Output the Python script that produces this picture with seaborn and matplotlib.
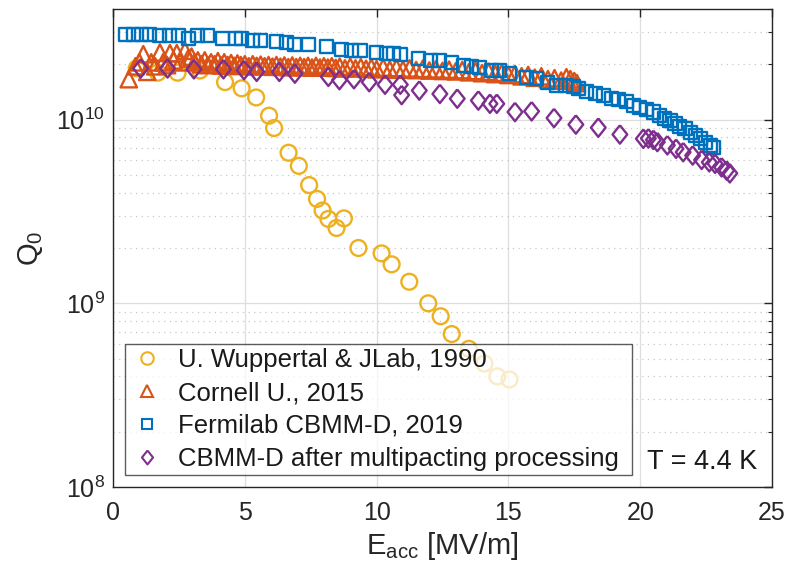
import numpy as np
import pandas as pd
import matplotlib
matplotlib.use("Agg")
import matplotlib.pyplot as plt
from matplotlib.lines import Line2D
from matplotlib.ticker import LogLocator, FixedLocator, NullFormatter
import seaborn as sns

# ---------------- data ----------------
wup_E = [0.9, 1.7, 2.45, 3.3, 4.25, 4.88, 5.43, 5.92, 6.11, 6.66, 7.05, 7.44, 7.74, 7.95,
         8.17, 8.48, 8.76, 9.31, 10.19, 10.57, 11.24, 11.96, 12.43, 12.85, 13.5, 14.09,
         14.58, 15.04]
wup_Q = [1.90e10, 1.80e10, 1.80e10, 1.85e10, 1.60e10, 1.48e10, 1.32e10, 1.05e10, 9.0e9,
         6.6e9, 5.6e9, 4.4e9, 3.7e9, 3.2e9, 2.88e9, 2.57e9, 2.9e9, 2.0e9, 1.87e9, 1.63e9,
         1.31e9, 1.0e9, 8.5e8, 6.8e8, 5.65e8, 4.7e8, 4.0e8, 3.85e8]

cor_E = [0.60, 0.85, 1.00, 1.15, 1.30, 1.45, 1.60, 1.78, 1.90, 2.05, 2.16, 2.30, 2.42, 2.55,
         2.73, 2.85, 2.98, 3.10, 3.22, 3.35, 3.48, 3.60, 3.72, 3.85, 3.98, 4.10, 4.22, 4.35,
         4.48, 4.60, 4.72, 4.85, 5.00, 5.15, 5.30, 5.45, 5.60, 5.75, 5.90, 6.05, 6.20, 6.35,
         6.50, 6.65, 6.80, 6.95, 7.10, 7.25, 7.40, 7.55, 7.70, 7.85, 8.00, 8.15, 8.30, 8.45,
         8.60, 8.80, 9.00, 9.20, 9.40, 9.60, 9.80, 10.00, 10.25, 10.50, 10.75, 11.00, 11.25,
         11.50, 11.75, 12.00, 12.25, 12.50, 12.75, 13.00, 13.25, 13.50, 13.75, 14.00, 14.25,
         14.50, 14.75, 15.00, 15.25, 15.50, 15.75, 16.00, 16.25, 16.50, 16.75, 17.00, 17.20,
         17.35, 17.50, 17.60]
cor_Q = [1.66, 1.95, 2.05, 2.27, 1.82, 2.05, 1.95, 2.32, 2.05, 1.98, 2.30, 2.10, 2.30, 2.05,
         2.37, 2.15, 2.20, 2.05, 2.10, 2.00, 2.10, 1.98, 2.05, 2.00, 2.08, 1.97, 2.05, 1.98,
         2.03, 1.96, 2.02, 1.98, 2.00, 1.95, 2.00, 1.96, 1.99, 1.95, 1.98, 1.94, 1.98, 1.94,
         1.97, 1.93, 1.97, 1.93, 1.96, 1.93, 1.96, 1.92, 1.96, 1.92, 1.95, 1.92, 1.95, 1.91,
         1.94, 1.90, 1.94, 1.90, 1.93, 1.89, 1.92, 1.88, 1.92, 1.87, 1.91, 1.87, 1.90,
         1.86, 1.89, 1.85, 1.88, 1.84, 1.87, 1.83, 1.86, 1.81, 1.84, 1.79, 1.82,
         1.77, 1.80, 1.75, 1.77, 1.72, 1.75, 1.69, 1.72, 1.66, 1.68, 1.63, 1.70,
         1.66, 1.62, 1.58]
cor_Q = [q * 1e10 for q in cor_Q]

fnal_E = [0.46, 0.76, 1.09, 1.4, 1.78, 2.16, 2.47, 2.85, 3.22, 3.6, 4.17, 4.63, 4.88, 5.3,
          5.58, 6.21, 6.59, 6.9, 7.4, 8.1, 8.68, 9.05, 9.37, 10.0, 10.38, 10.63, 10.9, 11.58,
          12.03, 12.4, 12.85, 13.28, 13.6, 13.92, 14.37, 14.68, 15.06, 15.69, 16.07, 16.5,
          16.83, 17.15, 17.46, 17.65, 17.97, 18.29, 18.6, 18.92, 19.17, 19.48, 19.74, 19.99,
          20.24, 20.5, 20.75, 20.94, 21.13, 21.32, 21.5, 21.7, 21.89, 22.08, 22.27, 22.46,
          22.65, 22.77]
fnal_Q = [2.90, 2.90, 2.89, 2.89, 2.88, 2.88, 2.87, 2.77, 2.86, 2.86, 2.78, 2.78, 2.76, 2.71,
          2.70, 2.66, 2.63, 2.57, 2.55, 2.51, 2.41, 2.39, 2.37, 2.32, 2.29, 2.28, 2.26, 2.15,
          2.11, 2.09, 2.04, 1.98, 1.95, 1.92, 1.86, 1.85, 1.78, 1.70, 1.67, 1.60,
          1.54, 1.53, 1.51, 1.48, 1.42, 1.39, 1.36, 1.30, 1.28, 1.25, 1.20, 1.17,
          1.13, 1.10, 1.05, 1.02, 0.99, 0.95, 0.92, 0.89, 0.855, 0.82, 0.787, 0.755,
          0.725, 0.708]
fnal_Q = [q * 1e10 for q in fnal_Q]

mp_E = [1.05, 2.07, 3.07, 4.19, 4.97, 5.45, 6.31, 6.9, 8.17, 8.59, 9.14, 9.72, 10.32, 10.9,
        10.95, 11.62, 12.4, 13.06, 13.86, 14.3, 14.56, 15.25, 15.88, 16.73, 17.56, 18.41,
        19.23, 20.12, 20.31, 20.5, 20.65, 21.03, 21.36, 21.63, 21.99, 22.33, 22.62, 22.84,
        23.09, 23.28, 23.4]
mp_Q = [1.90, 1.90, 1.88, 1.88, 1.86, 1.82, 1.82, 1.78, 1.71, 1.64, 1.66, 1.60, 1.55, 1.55,
        1.36, 1.44, 1.38, 1.30, 1.27, 1.22, 1.22, 1.10, 1.11, 1.02, 0.94, 0.904,
        0.83, 0.787, 0.79, 0.776, 0.755, 0.725, 0.694, 0.665, 0.638, 0.604, 0.586, 0.575,
        0.55, 0.528, 0.51]
mp_Q = [q * 1e10 for q in mp_Q]

labels = ["U. Wuppertal & JLab, 1990", "Cornell U., 2015",
          "Fermilab CBMM-D, 2019", "CBMM-D after multipacting processing"]
colors = ["#EDB120", "#D95319", "#0072BD", "#7E2F8E"]
x_ticks = [0, 5, 10, 15, 20, 25]

# ---------------- style ----------------
sns.set_style("white")
plt.rcParams["font.family"] = ["Liberation Sans", "DejaVu Sans"]
plt.rcParams["mathtext.fontset"] = "custom"
plt.rcParams["mathtext.rm"] = "Liberation Sans"
plt.rcParams["mathtext.it"] = "Liberation Sans:italic"
plt.rcParams["mathtext.default"] = "regular"

fig = plt.figure(figsize=(7.85, 5.65), dpi=100)
ax = fig.add_axes([113 / 785, 1 - 487 / 565, 659 / 785, 478 / 565])

diamond = [(0, 1), (0.8, 0), (0, -1), (-0.8, 0), (0, 1)]
series = [
    (wup_E, wup_Q, "o", 130),
    (cor_E, cor_Q, "^", 140),
    (fnal_E, fnal_Q, "s", 88),
    (mp_E, mp_Q, diamond, 175),
]
for (E, Q, m, s), lab, c in zip(series, labels, colors):
    df = pd.DataFrame({"E": E, "Q": Q})
    sns.scatterplot(data=df, x="E", y="Q", marker=m, s=s, color=c, facecolors="none",
                    edgecolor=c, linewidth=1.7, ax=ax, legend=False, zorder=3)

ax.set_yscale("log")
ax.set_xlim(0, 25)
ax.set_ylim(1e8, 4e10)
ax.xaxis.set_major_locator(FixedLocator(x_ticks))
ax.yaxis.set_major_locator(LogLocator(base=10, numticks=10))
ax.yaxis.set_minor_locator(LogLocator(base=10, subs=np.arange(2, 10), numticks=20))
ax.yaxis.set_minor_formatter(NullFormatter())

ax.grid(True, which="major", color="#dedede", linewidth=0.9, linestyle="-")
ax.grid(True, which="minor", axis="y", color="#c8c8c8", linewidth=0.9, linestyle=(0, (1, 3.5)))
ax.set_axisbelow(True)

for sp in ax.spines.values():
    sp.set_color("#262626")
    sp.set_linewidth(1.0)
ax.tick_params(which="both", direction="in", top=True, right=True, colors="#262626",
               labelsize=18)
ax.tick_params(which="major", length=6, width=1.0)
ax.tick_params(which="minor", length=3, width=0.8)
ax.tick_params(axis="x", pad=10)
ax.tick_params(axis="y", pad=6)

ax.set_xlabel(r"E$_{\mathrm{acc}}$ [MV/m]", fontsize=21, color="#262626", labelpad=4)
ax.set_ylabel(r"Q$_0$", fontsize=21, color="#262626", labelpad=8)

handles = [Line2D([], [], marker=m, linestyle="none",
                  markerfacecolor="none", markeredgecolor=c, markeredgewidth=1.5,
                  markersize=ms)
           for m, c, ms in zip(["o", "^", "s", diamond], colors, [9, 9, 7.5, 10])]
leg = ax.legend(handles, labels, loc="lower left",
                bbox_to_anchor=((125 - 113) / 659, (487 - 475) / 478, 507 / 659, 0.2),
                mode="expand",
                borderaxespad=0, fontsize=18.5, frameon=True, fancybox=False,
                framealpha=0.75, edgecolor="#262626", handlelength=1.4,
                handletextpad=0.5, labelspacing=0.34, borderpad=0.17)
leg.get_frame().set_linewidth(1.0)
for t in leg.get_texts():
    t.set_color("#1a1a1a")

ax.text((757 - 113) / 659, (487 - 462) / 478, "T = 4.4 K", transform=ax.transAxes,
        ha="right", va="center", fontsize=19.5, color="#1a1a1a")

fig.savefig("out.png", dpi=100)
